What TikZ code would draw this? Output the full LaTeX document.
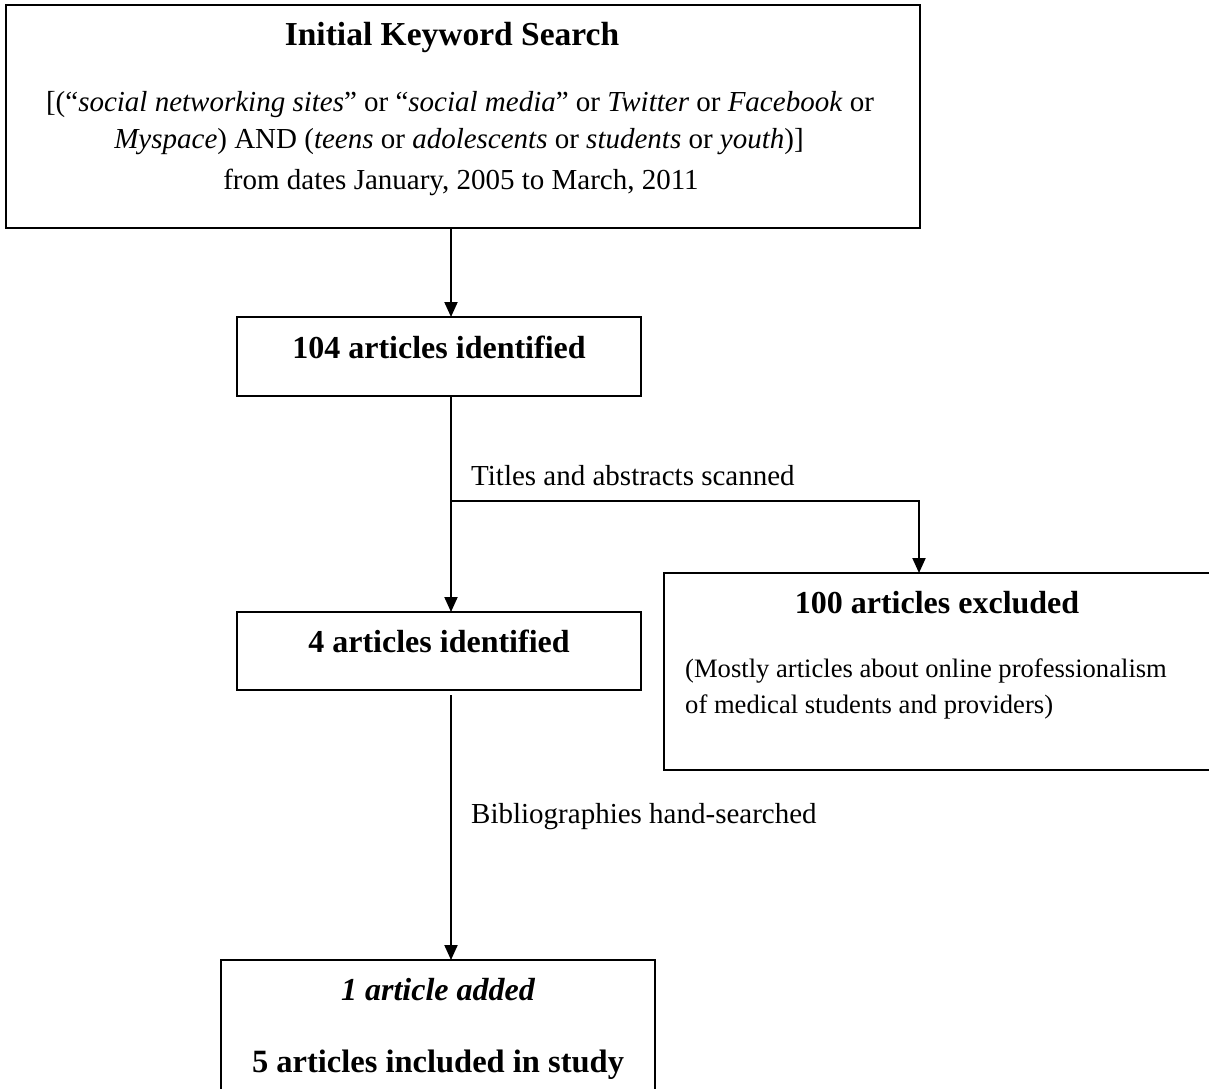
\documentclass[tikz,border=0pt]{standalone}
\usepackage{fontspec}
\setmainfont{Liberation Serif}
\usetikzlibrary{arrows.meta}
\begin{document}
\begin{tikzpicture}[x=1pt,y=-1pt,
  box/.style={draw=black,line width=2pt,inner sep=0pt,outer sep=0pt,anchor=north west},
  conn/.style={draw=black,line width=2pt},
  arr/.style={conn,-{Triangle[width=13pt,length=15pt]}},
  body/.style={inner sep=0pt,font=\fontsize{29}{34}\selectfont},
  small/.style={inner sep=0pt,font=\fontsize{26.6}{32}\selectfont},
  head/.style={inner sep=0pt,font=\fontsize{32}{38}\selectfont\bfseries}]
\useasboundingbox (0,0) rectangle (1209,1088);
\fill[white] (0,0) rectangle (1209,1088);
% boxes
\node[box,line width=2.5pt,minimum width=914pt,minimum height=223pt] (top) at (6,5) {};
\node[box,minimum width=404pt,minimum height=79pt] (b104) at (237,317) {};
\node[box,minimum width=404pt,minimum height=78pt] (b4) at (237,612) {};
\node[box,minimum width=551pt,minimum height=197pt] (excl) at (664,573) {};
\node[box,minimum width=434pt,minimum height=140pt] (bot) at (221,960) {};
% texts
\node[head,font=\fontsize{33.5}{38}\selectfont\bfseries,anchor=base] (t1) at (452,45) {Initial Keyword Search};
\node[body,anchor=base] (t2) at (460,111) {[(“\textit{social networking sites}” or “\textit{social media}” or \textit{Twitter} or \textit{Facebook} or};
\node[body,anchor=base] (t3) at (459,148) {\textit{Myspace}) AND (\textit{teens} or \textit{adolescents} or \textit{students} or \textit{youth})]};
\node[body,anchor=base] (t4) at (461,189) {from dates January, 2005 to March, 2011};
\node[head,anchor=base] (t104) at (439,358) {104 articles identified};
\node[head,anchor=base] (t4a) at (439,652) {4 articles identified};
\node[head,anchor=base] (texc) at (937,613) {100 articles excluded};
\node[small,anchor=base west] (te1) at (685,677) {(Mostly articles about online professionalism};
\node[small,anchor=base west] (te2) at (685,713) {of medical students and providers)};
\node[head,font=\fontsize{32}{38}\selectfont\bfseries\itshape,anchor=base] (tadd) at (438,1000) {1 article added};
\node[head,font=\fontsize{32.5}{38}\selectfont\bfseries,anchor=base] (tinc) at (438,1072) {5 articles included in study};
\node[body,anchor=base west] (lab1) at (471,485) {Titles and abstracts scanned};
\node[body,anchor=base west] (lab2) at (471,823) {Bibliographies hand-searched};
% connectors
\coordinate (ax) at (451,0);
\coordinate (ex) at (919,0);
\coordinate (br) at (451,501);
\draw[arr] (ax |- top.south) -- (ax |- b104.north);
\draw[conn] (ax |- b104.south) -- (br);
\draw[arr] (br) -- (ax |- b4.north);
\draw[arr] (br) -| (ex |- excl.north);
\draw[arr] ([yshift=-5pt]ax |- b4.south) -- (ax |- bot.north);
\end{tikzpicture}
\end{document}
